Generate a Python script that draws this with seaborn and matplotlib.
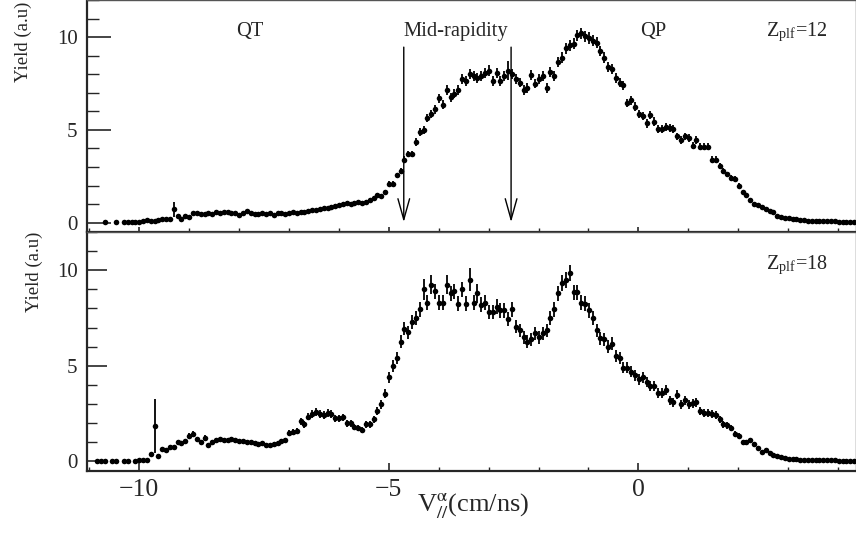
import numpy as np
import pandas as pd
import matplotlib
matplotlib.use("Agg")
import matplotlib.pyplot as plt
from matplotlib.ticker import MultipleLocator
import seaborn as sns

nan = np.nan

# V// histogram: 200 bins from -11.04 to 4.36 cm/ns
bin_lo, bin_hi, n_bins = -11.04, 4.36, 200

# alpha yield per bin, Z_plf = 12 (top panel), empty bins = nan
yield_z12 = [
    nan, nan, nan, nan, 0.02, nan, nan, 0.03, nan, 0.03,
    0.04, 0.03, 0.05, 0.05, 0.08, 0.12, 0.08, 0.1, 0.15, 0.18,
    0.22, 0.2, 0.72, 0.35, 0.22, 0.38, 0.3, 0.5, 0.52, 0.48,
    0.45, 0.5, 0.45, 0.6, 0.52, 0.55, 0.6, 0.5, 0.5, 0.42,
    0.5, 0.62, 0.5, 0.48, 0.45, 0.5, 0.48, 0.52, 0.42, 0.5,
    0.52, 0.48, 0.5, 0.55, 0.52, 0.6, 0.58, 0.65, 0.7, 0.68,
    0.75, 0.8, 0.78, 0.85, 0.9, 0.95, 1.0, 1.05, 1.0, 1.08,
    1.1, 1.05, 1.1, 1.2, 1.35, 1.5, 1.45, 1.65, 2.1, 2.1,
    2.55, 2.8, 3.4, 3.7, 3.7, 4.35, 4.9, 5.0, 5.65, 5.85,
    6.1, 6.7, 6.35, 7.15, 6.75, 6.95, 7.15, 7.75, 7.65, 8.0,
    7.9, 7.8, 7.9, 8.05, 8.2, 7.65, 8.05, 7.65, 7.9, 8.2,
    8.0, 7.75, 7.55, 7.15, 7.25, 7.95, 7.5, 7.75, 7.9, 7.25,
    8.1, 7.9, 8.65, 8.9, 9.4, 9.55, 9.65, 10.1, 10.2, 10.05,
    9.95, 9.8, 9.7, 9.25, 8.9, 8.4, 8.3, 7.8, 7.55, 7.4,
    6.45, 6.6, 6.25, 5.85, 5.75, 5.35, 5.8, 5.45, 5.05, 5.05,
    5.15, 5.1, 5.05, 4.65, 4.45, 4.65, 4.55, 4.15, 4.45, 4.1,
    4.1, 4.1, 3.4, 3.4, 3.05, 2.8, 2.6, 2.4, 2.35, 2.0,
    1.65, 1.5, 1.2, 1.0, 0.95, 0.85, 0.75, 0.63, 0.55, 0.35,
    0.3, 0.28, 0.24, 0.22, 0.18, 0.13, 0.12, 0.11, 0.1, 0.1,
    0.09, 0.08, 0.08, 0.07, 0.07, 0.06, 0.06, 0.05, 0.05, 0.05,
]

# alpha yield per bin, Z_plf = 18 (bottom panel)
yield_z18 = [
    nan, nan, 0.02, 0.02, 0.02, nan, 0.02, 0.02, nan, 0.02,
    0.02, nan, 0.03, 0.06, 0.07, 0.05, 0.37, 1.85, 0.3, 0.65,
    0.6, 0.75, 0.75, 1.0, 0.95, 1.05, 1.35, 1.45, 1.15, 1.0,
    1.25, 0.85, 1.0, 1.1, 1.15, 1.1, 1.1, 1.15, 1.1, 1.05,
    1.05, 1.0, 1.0, 0.95, 0.9, 0.95, 0.85, 0.85, 0.9, 0.95,
    1.05, 1.1, 1.5, 1.55, 1.6, 2.1, 1.95, 2.35, 2.5, 2.6,
    2.5, 2.45, 2.55, 2.5, 2.25, 2.25, 2.3, 2.0, 2.0, 1.8,
    1.75, 1.65, 1.95, 1.95, 2.2, 2.65, 3.0, 3.55, 4.4, 5.0,
    5.4, 6.25, 6.95, 6.75, 7.3, 7.5, 7.95, 9.0, 8.3, 9.25,
    8.9, 8.3, 8.3, 9.25, 8.8, 8.9, 8.25, 9.0, 8.25, 9.5,
    8.3, 8.8, 8.2, 8.3, 7.8, 7.8, 8.1, 7.9, 7.9, 7.45,
    7.95, 7.05, 6.85, 6.5, 6.25, 6.4, 6.7, 6.5, 6.7, 6.85,
    7.5, 7.95, 8.8, 9.35, 9.5, 9.85, 8.85, 8.85, 8.3, 8.25,
    7.9, 7.5, 6.85, 6.45, 6.4, 6.0, 6.15, 5.5, 5.4, 4.9,
    4.9, 4.7, 4.5, 4.3, 4.4, 4.15, 3.95, 3.95, 3.6, 3.6,
    3.75, 3.2, 3.1, 3.5, 3.0, 3.2, 3.0, 3.05, 3.1, 2.65,
    2.55, 2.55, 2.5, 2.45, 2.2, 1.95, 1.9, 1.75, 1.45, 1.35,
    1.0, 1.0, 1.1, 0.9, 0.7, 0.5, 0.6, 0.45, 0.35, 0.3,
    0.22, 0.2, 0.15, 0.14, 0.12, 0.1, 0.1, 0.09, 0.08, 0.07,
    0.07, 0.06, 0.05, 0.05, 0.05, 0.04, 0.04, 0.04, 0.03, 0.03,
]

# statistics: counts per yield unit (error = sqrt(N)/norm)
norm_z12, norm_z18 = 110.0, 55.0
# bins with low statistics / large weights -> bigger error bars
big_err_z12 = {22: 0.4, 109: 0.5}
big_err_z18 = {17: 1.4, 87: 0.55, 89: 0.5, 93: 0.5, 99: 0.6, 101: 0.5}

region_labels = ["QT", "Mid-rapidity", "QP"]
region_label_x = [-7.78, -3.66, 0.29]
mid_rapidity_cuts = [-4.70, -2.55]

serif = ["Liberation Serif", "DejaVu Serif"]


def make_df(values, norm, big_err):
    edges = np.linspace(bin_lo, bin_hi, n_bins + 1)
    centers = 0.5 * (edges[:-1] + edges[1:])
    y = np.array(values, dtype=float)
    err = np.sqrt(np.clip(y, 0, None) / norm)
    for i, e in big_err.items():
        err[i] = e
    df = pd.DataFrame({"v": centers, "y": y, "err": err})
    return df.dropna()


def draw_panel(ax, df, zlabel, ylab_x, ylab_y, maj_len, min_len, xmaj_len):
    ax.errorbar(df["v"], df["y"], yerr=df["err"], fmt="none",
                ecolor="black", elinewidth=1.3, capsize=0, zorder=2)
    sns.scatterplot(data=df, x="v", y="y", ax=ax, color="black", s=16,
                    linewidth=0, legend=False, zorder=3)
    ax.set_xlim(bin_lo, bin_hi)
    ax.set_ylim(-0.5, 12)
    ax.xaxis.set_major_locator(MultipleLocator(5))
    ax.xaxis.set_minor_locator(MultipleLocator(1))
    ax.yaxis.set_major_locator(MultipleLocator(5))
    ax.yaxis.set_minor_locator(MultipleLocator(1))
    ax.tick_params(axis="y", which="major", direction="in", length=maj_len,
                   width=1.2, labelsize=15, pad=7)
    ax.tick_params(axis="y", which="minor", direction="in", length=min_len, width=1.0)
    ax.tick_params(axis="x", which="major", direction="in", length=xmaj_len,
                   width=1.2, labelsize=18.5, pad=6)
    ax.tick_params(axis="x", which="minor", direction="in", length=3, width=1.0)
    for side in ["left", "bottom"]:
        ax.spines[side].set_linewidth(1.6)
    for side in ["top", "right"]:
        ax.spines[side].set_linewidth(1.0)
        ax.spines[side].set_color("#555555")
    ax.set_ylabel("Yield (a.u)", fontsize=13.5, loc="top", family=serif)
    ax.yaxis.set_label_coords(ylab_x, ylab_y)
    ax.text(3.17, 10.04, r"Z$_{\mathregular{plf}}$=" + zlabel, fontsize=14.5,
            ha="center", va="baseline", family=serif)


sns.set_theme(style="ticks")
plt.rcParams["font.family"] = serif
plt.rcParams["mathtext.fontset"] = "stix"

fig = plt.figure(figsize=(8.56, 5.35), dpi=100)
ax_top = fig.add_axes([0.102, 0.5664, 0.898, 0.4336])
ax_bot = fig.add_axes([0.102, 0.1196, 0.898, 0.4468])

df12 = make_df(yield_z12, norm_z12, big_err_z12)
df18 = make_df(yield_z18, norm_z18, big_err_z18)

draw_panel(ax_top, df12, "12", -0.072, 0.995, 17, 8.5, 3.6)
draw_panel(ax_bot, df18, "18", -0.058, 1.0, 14.5, 7.2, 6)

ax_top.set_xlabel("")
ax_top.tick_params(axis="x", labelbottom=False)

for lab, xl in zip(region_labels, region_label_x):
    ax_top.text(xl, 10.08, lab, fontsize=14.8, ha="center", va="baseline",
                family=serif)

for xc in mid_rapidity_cuts:
    ax_top.annotate("", xy=(xc, 0.03), xytext=(xc, 9.46),
                    arrowprops=dict(arrowstyle="->,head_length=1.0,head_width=0.28",
                                    mutation_scale=15, lw=1.0, color="black",
                                    shrinkA=0, shrinkB=0))

ax_bot.set_xlabel(r"V$^{\mathrm{\alpha}}_{\mathit{//}}$(cm/ns)", fontsize=19, family=serif)
ax_bot.xaxis.set_label_coords(0.502, -0.085)
ax_bot.xaxis.label.set_va("top")

fig.savefig("out.png", dpi=100)
